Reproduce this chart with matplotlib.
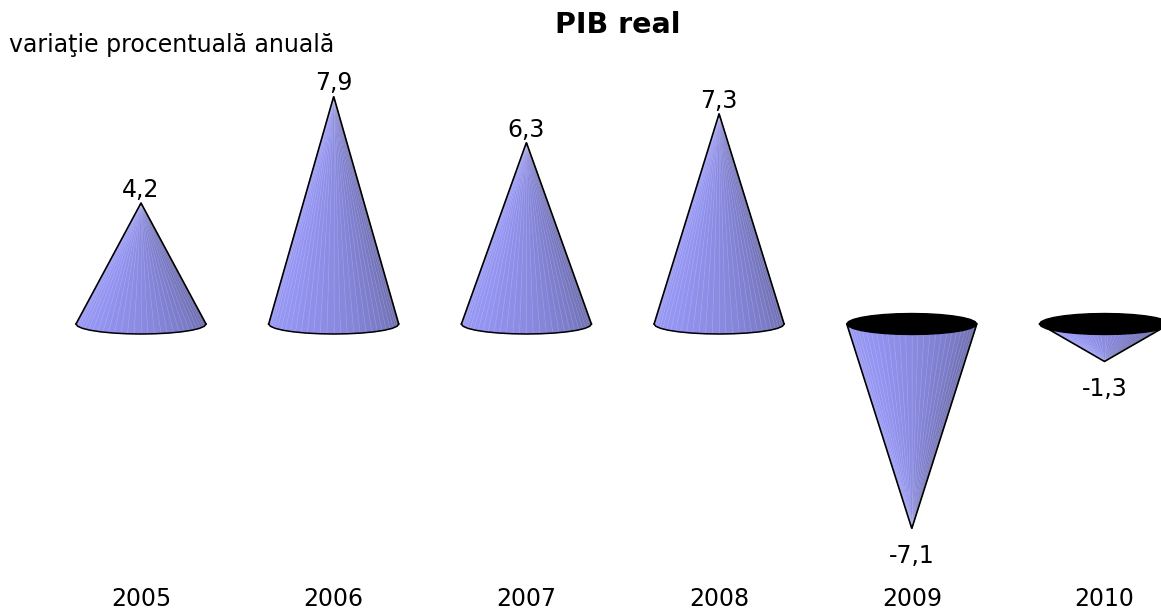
import numpy as np
import matplotlib
matplotlib.use('Agg')
import matplotlib.pyplot as plt
from matplotlib.collections import PolyCollection, LineCollection
from matplotlib.colors import LinearSegmentedColormap

plt.rcParams['font.family'] = ['DejaVu Sans']

W, H = 1161, 613
years = ['2005', '2006', '2007', '2008', '2009', '2010']
values = [4.2, 7.9, 6.3, 7.3, -7.1, -1.3]
labels = ['4,2', '7,9', '6,3', '7,3', '-7,1', '-1,3']

shade = LinearSegmentedColormap.from_list('cone', ['#9a9af4', '#9494f2', '#8a8ae2', '#7c7cca', '#6a6aa8'])

fig = plt.figure(figsize=(W / 100, H / 100), dpi=100)
ax = fig.add_axes([0, 0, 1, 1], facecolor='none')

step = 192.7
first = 141
zero_px = 324
px_per_unit = 28.8
ax.set_xlim(-first / step, (W - first) / step)
ax.set_ylim((zero_px - H) / px_per_unit, zero_px / px_per_unit)
ax.axis('off')

half_w = 65 / step
ry = 10 / px_per_unit


def draw_cone(i, v):
    # base curve is coarse on purpose, the original edge is a bit wobbly
    rim = np.linspace(np.pi, 2 * np.pi, 15)
    ex = i + half_w * np.cos(rim)
    ey = ry * np.sin(rim) * (1 if v > 0 else -1)

    theta = np.linspace(np.pi, 2 * np.pi, 31)
    fx = i + half_w * np.cos(theta)
    fy = ry * np.sin(theta) * (1 if v > 0 else -1)
    polys = []
    cols = []
    seams = []
    for k in range(len(theta) - 1):
        c = shade(k / (len(theta) - 2))
        polys.append([(i, v), (fx[k], fy[k]), (fx[k + 1], fy[k + 1])])
        cols.append(c)
        if k > 0:
            seams.append([(i + (fx[k] - i) * 0.02, v + (fy[k] - v) * 0.02), (fx[k], fy[k])])
    ax.add_collection(PolyCollection(polys, facecolors=cols, edgecolors=cols, linewidths=0.4, zorder=2))
    ax.add_collection(LineCollection(seams, colors='white', linewidths=0.5, alpha=0.16, zorder=2.5))
    ax.plot([i - half_w, i, i + half_w], [0, v, 0], color='black', lw=1.2, zorder=3,
            solid_joinstyle='miter')
    if v > 0:
        ax.plot(ex, ey, color='black', lw=1.1, zorder=3)
    else:
        t = np.linspace(0, 2 * np.pi, 29)
        ax.fill(i + half_w * np.cos(t), 1.05 * ry * np.sin(t), color='black', zorder=4)


for i, v in enumerate(values):
    draw_cone(i, v)
    if v > 0:
        ax.text(i, v + 6 / px_per_unit, labels[i], ha='center', va='baseline', fontsize=17, color='black')
    else:
        ax.text(i, v - 35 / px_per_unit, labels[i], ha='center', va='baseline', fontsize=17, color='black')
    fig.text((first + step * i) / W, 1 - 606 / H, years[i], ha='center', va='baseline', fontsize=17)

fig.text(618 / W, 1 - 33 / H, 'PIB real', ha='center', va='baseline', fontsize=20.5, fontweight='bold')
fig.text(9 / W, 1 - 52 / H, 'variaţie procentuală anuală', ha='left', va='baseline', fontsize=17)

fig.savefig('out.png', dpi=100)
